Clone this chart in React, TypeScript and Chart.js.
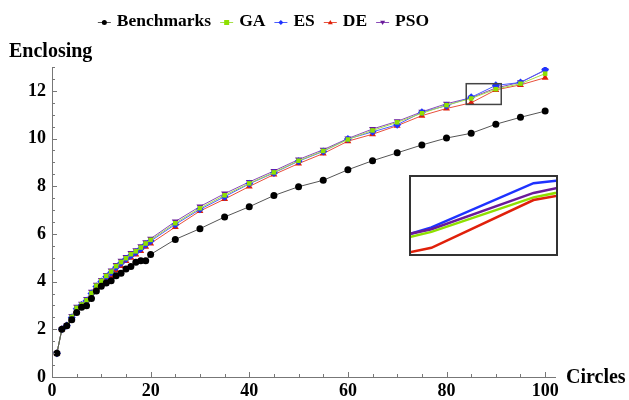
import React, { useEffect, useRef } from "react";
import { Chart, registerables } from "chart.js";

Chart.register(...registerables);

const circles = [1, 2, 3, 4, 5, 6, 7, 8, 9, 10, 11, 12, 13, 14, 15, 16, 17, 18, 19, 20, 25, 30, 35, 40, 45, 50, 55, 60, 65, 70, 75, 80, 85, 90, 95, 100];
const benchmarks = [1, 2, 2.15, 2.4, 2.71, 2.92, 2.99, 3.29, 3.61, 3.81, 3.94, 4.04, 4.25, 4.35, 4.53, 4.63, 4.81, 4.87, 4.87, 5.14, 5.77, 6.22, 6.71, 7.14, 7.61, 7.98, 8.25, 8.69, 9.07, 9.40, 9.73, 10.02, 10.22, 10.6, 10.89, 11.15];
const gaValues = [1, 2, 2.16, 2.52, 2.9, 3.04, 3.22, 3.52, 3.83, 4.03, 4.24, 4.42, 4.65, 4.82, 4.98, 5.15, 5.27, 5.43, 5.6, 5.75, 6.45, 7.08, 7.62, 8.12, 8.58, 9.07, 9.48, 9.96, 10.34, 10.68, 11.06, 11.4, 11.68, 12.07, 12.3, 12.72];
const esValues = [1, 2, 2.16, 2.5, 2.86, 3.02, 3.2, 3.5, 3.8, 4.0, 4.2, 4.38, 4.6, 4.78, 4.95, 5.1, 5.23, 5.38, 5.56, 5.7, 6.4, 7.03, 7.56, 8.1, 8.56, 9.05, 9.46, 9.98, 10.28, 10.58, 11.1, 11.38, 11.73, 12.23, 12.35, 12.88];
const deValues = [1, 2, 2.15, 2.42, 2.78, 2.96, 3.08, 3.38, 3.73, 3.94, 4.13, 4.22, 4.48, 4.65, 4.86, 5.0, 5.14, 5.28, 5.46, 5.6, 6.29, 6.96, 7.46, 7.99, 8.49, 8.95, 9.37, 9.89, 10.18, 10.54, 10.96, 11.26, 11.5, 12.04, 12.25, 12.55];
const psoValues = [1, 2, 2.17, 2.56, 2.95, 3.07, 3.27, 3.58, 3.87, 4.07, 4.28, 4.47, 4.7, 4.87, 5.03, 5.2, 5.32, 5.48, 5.65, 5.8, 6.52, 7.15, 7.69, 8.18, 8.64, 9.12, 9.53, 10.0, 10.4, 10.72, 11.12, 11.46, 11.71, 12.12, 12.36, 12.86];

const xTicks = [0, 20, 40, 60, 80, 100];
const yTicks = [0, 2, 4, 6, 8, 10, 12];
const zoomXRange = [84, 91.1];
const zoomYRange = [11.43, 12.3];

const SERIF = "'Liberation Serif', 'Times New Roman', serif";

type Series = { label: string; values: number[]; line: string; point: string; style: string; rot: number; r: number };
const series: Series[] = [
  { label: "Benchmarks", values: benchmarks, line: "#555555", point: "#000000", style: "circle", rot: 0, r: 3.5 },
  { label: "GA", values: gaValues, line: "#a6e04a", point: "#8ee000", style: "rect", rot: 0, r: 3.2 },
  { label: "ES", values: esValues, line: "#4a5cff", point: "#1e32ff", style: "rectRot", rot: 0, r: 4 },
  { label: "DE", values: deValues, line: "#e8503c", point: "#e0200a", style: "triangle", rot: 0, r: 4 },
  { label: "PSO", values: psoValues, line: "#8a4ab8", point: "#6a1a9a", style: "triangle", rot: 180, r: 4 },
];

function drawMarker(ctx: CanvasRenderingContext2D, style: string, rot: number, x: number, y: number, r: number, color: string) {
  ctx.save();
  ctx.fillStyle = color;
  ctx.beginPath();
  if (style === "circle") {
    ctx.arc(x, y, r, 0, Math.PI * 2);
  } else if (style === "rect") {
    ctx.rect(x - r, y - r, 2 * r, 2 * r);
  } else if (style === "rectRot") {
    ctx.moveTo(x, y - r); ctx.lineTo(x + r, y); ctx.lineTo(x, y + r); ctx.lineTo(x - r, y);
  } else {
    const s = rot === 180 ? -1 : 1;
    ctx.moveTo(x, y - s * r); ctx.lineTo(x + r, y + s * r * 0.7); ctx.lineTo(x - r, y + s * r * 0.7);
  }
  ctx.closePath();
  ctx.fill();
  ctx.restore();
}

const decorPlugin = {
  id: "decor",
  afterDraw(chart: any) {
    const ctx: CanvasRenderingContext2D = chart.ctx;
    const xs = chart.scales.x;
    const ys = chart.scales.y;
    const area = chart.chartArea;
    ctx.save();
    ctx.strokeStyle = "#777";
    ctx.lineWidth = 1;
    for (let v = 0; v <= 13; v += 0.5) {
      const py = Math.round(ys.getPixelForValue(v)) + 0.5;
      const len = v % 2 === 0 ? 5 : 3;
      ctx.beginPath(); ctx.moveTo(area.left, py); ctx.lineTo(area.left + len, py); ctx.stroke();
    }
    for (let v = 0; v <= 100; v += 5) {
      const px = Math.round(xs.getPixelForValue(v)) + 0.5;
      const len = v % 20 === 0 ? 5 : 3;
      ctx.beginPath(); ctx.moveTo(px, area.bottom); ctx.lineTo(px, area.bottom - len); ctx.stroke();
    }
    ctx.strokeStyle = "#444";
    ctx.lineWidth = 1.5;
    const rx1 = xs.getPixelForValue(zoomXRange[0]);
    const rx2 = xs.getPixelForValue(zoomXRange[1]);
    const ry1 = ys.getPixelForValue(zoomYRange[1]);
    const ry2 = ys.getPixelForValue(zoomYRange[0]);
    ctx.strokeRect(rx1, ry1, rx2 - rx1, ry2 - ry1);
    ctx.fillStyle = "#000";
    ctx.font = `bold 20px ${SERIF}`;
    ctx.textBaseline = "alphabetic";
    ctx.textAlign = "left";
    ctx.fillText("Enclosing", 9, 57);
    ctx.fillText("Circles", 566, 383);
    ctx.font = `bold 17.5px ${SERIF}`;
    const lineLen = 13, gapText = 6, gapItem = 9;
    let total = 0;
    series.forEach((s, i) => {
      total += lineLen + gapText + ctx.measureText(s.label).width + (i < series.length - 1 ? gapItem : 0);
    });
    let x = 263.5 - total / 2;
    const ly = 22, ty = 26;
    series.forEach((s) => {
      ctx.strokeStyle = s.line;
      ctx.lineWidth = 1;
      ctx.beginPath(); ctx.moveTo(x, ly + 0.5); ctx.lineTo(x + lineLen, ly + 0.5); ctx.stroke();
      drawMarker(ctx, s.style, s.rot, x + lineLen / 2, ly + 0.5, 2.5, s.point);
      x += lineLen + gapText;
      ctx.fillStyle = "#000";
      ctx.fillText(s.label, x, ty);
      x += ctx.measureText(s.label).width + gapItem;
    });
    ctx.restore();
  },
};

export default function App() {
  const mainRef = useRef<HTMLCanvasElement | null>(null);
  const insetRef = useRef<HTMLCanvasElement | null>(null);

  useEffect(() => {
    if (!mainRef.current || !insetRef.current) return;
    const tickFont = { family: SERIF, weight: "bold" as const, size: 18 };
    const main = new Chart(mainRef.current, {
      type: "line",
      data: {
        datasets: series.map((s) => ({
          label: s.label,
          data: circles.map((c, i) => ({ x: c, y: s.values[i] })),
          borderColor: s.line,
          borderWidth: 1,
          backgroundColor: s.point,
          pointBackgroundColor: s.point,
          pointBorderColor: s.point,
          pointBorderWidth: 0,
          pointStyle: s.style as any,
          pointRotation: s.rot,
          pointRadius: s.r,
          tension: 0,
          fill: false,
        })),
      },
      options: {
        animation: false,
        responsive: false,
        layout: { padding: { left: 0, right: 74, top: 67, bottom: 0 } },
        plugins: { legend: { display: false }, tooltip: { enabled: false } },
        scales: {
          x: {
            type: "linear",
            min: 0,
            max: 102,
            grid: { display: false, drawTicks: false },
            border: { display: true, color: "#777", width: 1 },
            ticks: { font: tickFont, color: "#000", padding: 4, maxRotation: 0 },
            afterBuildTicks: (s: any) => { s.ticks = xTicks.map((v) => ({ value: v })); },
            afterFit: (s: any) => { s.height = 23; },
          },
          y: {
            type: "linear",
            min: 0,
            max: 13,
            grid: { display: false, drawTicks: false },
            border: { display: true, color: "#777", width: 1 },
            ticks: { font: tickFont, color: "#000", padding: 6 },
            afterBuildTicks: (s: any) => { s.ticks = yTicks.map((v) => ({ value: v })); },
            afterFit: (s: any) => { s.width = 52; },
          },
        },
      },
      plugins: [decorPlugin],
    });

    const insetOrder = [3, 1, 4, 2];
    const inset = new Chart(insetRef.current, {
      type: "line",
      data: {
        datasets: insetOrder.map((k) => {
          const s = series[k];
          return {
            label: s.label,
            data: circles.map((c, i) => ({ x: c, y: s.values[i] })),
            borderColor: s.point,
            borderWidth: 2.5,
            pointRadius: 0,
            tension: 0,
            fill: false,
          };
        }),
      },
      options: {
        animation: false,
        responsive: false,
        layout: { padding: 0 },
        plugins: { legend: { display: false }, tooltip: { enabled: false } },
        scales: {
          x: { type: "linear", display: false, min: zoomXRange[0], max: zoomXRange[1] },
          y: { type: "linear", display: false, min: zoomYRange[0], max: zoomYRange[1] },
        },
      },
    });

    return () => {
      main.destroy();
      inset.destroy();
    };
  }, []);

  return (
    <div style={{ position: "fixed", left: 0, top: 0, width: 629, height: 400, background: "#fff" }}>
      <canvas ref={mainRef} width={629} height={400} style={{ position: "absolute", left: 0, top: 0 }} />
      <div
        style={{
          position: "absolute",
          left: 409,
          top: 175,
          width: 149,
          height: 81,
          boxSizing: "border-box",
          border: "2px solid #333",
          background: "#fff",
        }}
      >
        <canvas ref={insetRef} width={145} height={77} style={{ display: "block" }} />
      </div>
    </div>
  );
}
